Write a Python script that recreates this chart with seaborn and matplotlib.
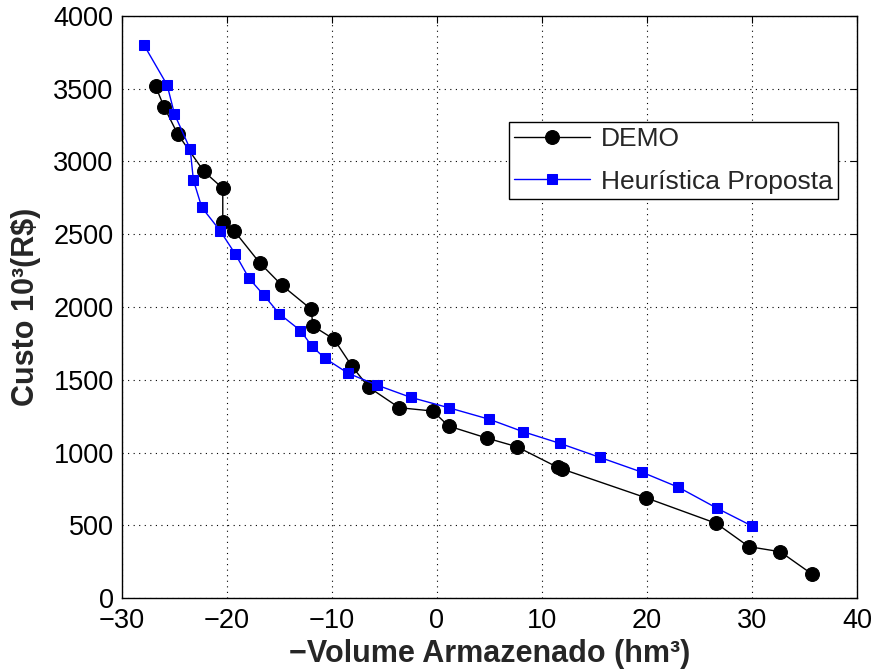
import matplotlib
matplotlib.use("Agg")
import matplotlib.pyplot as plt
import seaborn as sns
import pandas as pd

demo_x = [-26.8, -26.0, -24.7, -22.2, -20.4, -20.4, -19.3, -16.9, -14.8, -12.0, -11.8, -9.8, -8.1,
          -6.5, -3.6, -0.4, 1.1, 4.8, 7.6, 11.5, 11.9, 19.9, 26.6, 29.7, 32.7, 35.7]
demo_y = [3517, 3377, 3189, 2932, 2816, 2586, 2522, 2305, 2151, 1986, 1869, 1778, 1593,
          1449, 1308, 1285, 1182, 1098, 1040, 898, 887, 689, 513, 353, 318, 165]

heur_x = [-27.9, -25.7, -25.0, -23.5, -23.2, -22.4, -20.65, -19.2, -17.9, -16.5, -15.0, -13.0, -11.9,
          -10.7, -8.45, -5.7, -2.5, 1.1, 5.0, 8.2, 11.7, 15.5, 19.55, 23.0, 26.7, 30.0]
heur_y = [3800, 3526, 3326, 3084, 2873, 2685, 2524, 2363, 2197, 2082, 1952, 1838, 1730,
          1649, 1544, 1463, 1379, 1308, 1228, 1143, 1063, 967, 864, 761, 616, 495]

labels = ["DEMO", "Heurística Proposta"]
x_ticks = [-30, -20, -10, 0, 10, 20, 30, 40]
y_ticks = [0, 500, 1000, 1500, 2000, 2500, 3000, 3500, 4000]

sns.set_style("white")
plt.rcParams['font.family'] = ['Liberation Sans', 'DejaVu Sans']
plt.rcParams['axes.unicode_minus'] = True

fig = plt.figure(figsize=(8.75, 6.72), dpi=100)
ax = fig.add_axes([0.1394, 0.1101, 0.9794 - 0.1394, 0.9762 - 0.1101])

df_demo = pd.DataFrame({"x": demo_x, "y": demo_y})
df_heur = pd.DataFrame({"x": heur_x, "y": heur_y})

sns.lineplot(data=df_demo, x="x", y="y", sort=False, estimator=None, ax=ax, color="black",
             marker="o", markersize=10, markeredgecolor="black", markerfacecolor="black",
             linewidth=1.0, label=labels[0])
sns.lineplot(data=df_heur, x="x", y="y", sort=False, estimator=None, ax=ax, color="#0000ff",
             marker="s", markersize=7.5, markeredgecolor="#0000ff", markerfacecolor="#0000ff",
             linewidth=1.0, label=labels[1])

ax.set_xlim(-30, 40)
ax.set_ylim(0, 4000)
ax.set_xticks(x_ticks)
ax.set_yticks(y_ticks)
ax.set_xticklabels([("\u2212" + str(-t)) if t < 0 else str(t) for t in x_ticks])
ax.tick_params(direction="in", top=True, right=True, length=5, width=0.8, labelsize=19.5,
               colors="black")
ax.tick_params(axis="x", pad=7)
ax.tick_params(axis="y", pad=6)
ax.grid(True, linestyle=(0, (1, 4)), color="black", linewidth=0.8)
for s in ax.spines.values():
    s.set_color("black")
    s.set_linewidth(1.0)
    s.set_visible(True)

ax.set_xlabel("\u2212Volume Armazenado (hm\u00b3)", fontsize=22, fontweight="bold", labelpad=4)
ax.set_ylabel("Custo 10\u00b3(R$)", fontsize=22, fontweight="bold", labelpad=9)

leg = ax.legend(loc="upper left", bbox_to_anchor=(0.526, 0.818), fontsize=19, frameon=True,
                fancybox=False, edgecolor="black", framealpha=1, handlelength=2.9,
                handletextpad=0.4, borderpad=0.2, labelspacing=0.7, borderaxespad=0)
leg.get_frame().set_linewidth(1.0)

fig.savefig("out.png", dpi=100)
